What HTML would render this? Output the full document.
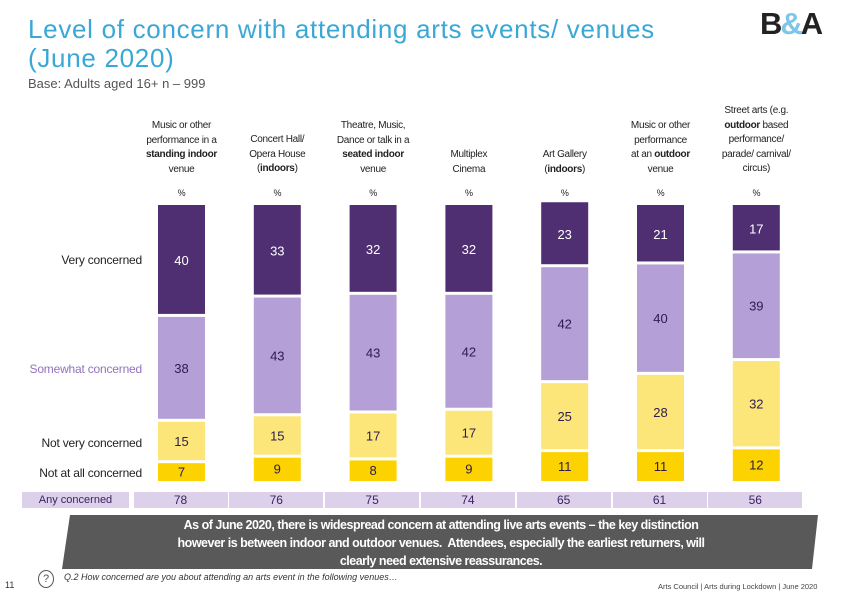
<!DOCTYPE html>
<html><head><meta charset="utf-8"><style>
body{margin:0;width:842px;height:596px;background:#fff;font-family:"Liberation Sans",sans-serif;position:relative;overflow:hidden}
.a{position:absolute}
.hdr{position:absolute;width:96px;text-align:center;font-size:10px;line-height:14.5px;color:#222;letter-spacing:-0.3px;white-space:nowrap}
.rl{position:absolute;right:700px;font-size:12px;color:#222;white-space:nowrap;letter-spacing:-0.2px}
</style></head><body>
<div class="a" style="left:28px;top:15px;font-size:26px;line-height:29px;color:#3aa8d6;letter-spacing:0.7px">Level of concern with attending arts events/ venues<br>(June 2020)</div>
<div class="a" style="left:28px;top:76px;font-size:13px;color:#555">Base: Adults aged 16+ n – 999</div>
<div class="a" style="left:760px;top:6px;font-size:31px;font-weight:bold;color:#222;letter-spacing:-2px">B<span style="color:#7cc6ea">&amp;</span>A</div>

<div class="rl" style="top:253px">Very concerned</div>
<div class="rl" style="top:362px;color:#9173bd">Somewhat concerned</div>
<div class="rl" style="top:436px">Not very concerned</div>
<div class="rl" style="top:466px">Not at all concerned</div>

<svg id="chart" class="a" style="left:0;top:0" width="842" height="596"></svg>

<div class="a" style="left:22px;top:492px;width:107px;height:16px;background:#dcd0ea;font-size:11px;line-height:16px;text-align:center;color:#3a2460">Any concerned</div>

<svg class="a" style="left:0;top:0" width="842" height="596"><polygon points="70,515 818,515 812,569 62,569" fill="#595959"/></svg>
<div class="a" style="left:111px;top:516px;width:660px;text-align:center;color:#fff;font-weight:bold;font-size:12.5px;line-height:18px;letter-spacing:-0.5px;white-space:nowrap">As of June 2020, there is widespread concern at attending live arts events – the key distinction<br>however is between indoor and outdoor venues.&nbsp; Attendees, especially the earliest returners, will<br>clearly need extensive reassurances.</div>
<div class="a" style="left:5px;top:580px;font-size:9px;color:#333">11</div>
<div class="a" style="left:38px;top:570px;width:14px;height:16px;border:1px solid #555;border-radius:50%;font-size:11px;text-align:center;line-height:16px;color:#555">?</div>
<div class="a" style="left:64px;top:572px;font-size:9px;font-style:italic;color:#333">Q.2 How concerned are you about attending an arts event in the following venues…</div>
<div class="a" style="left:658px;top:582px;font-size:7.5px;color:#444">Arts Council | Arts during Lockdown | June 2020</div>

<script>
const categories=["Music or other<br>performance in a<br><b>standing indoor</b><br>venue","Concert Hall/<br>Opera House<br>(<b>indoors</b>)","Theatre, Music,<br>Dance or talk in a<br><b>seated indoor</b><br>venue","Multiplex<br>Cinema","Art Gallery<br>(<b>indoors</b>)","Music or other<br>performance<br>at an <b>outdoor</b><br>venue","Street arts (e.g.<br><b>outdoor</b> based<br>performance/<br>parade/ carnival/<br>circus)"];
const veryConcerned=[40,33,32,32,23,21,17];
const somewhatConcerned=[38,43,43,42,42,40,39];
const notVeryConcerned=[15,15,17,17,25,28,32];
const notAtAllConcerned=[7,9,8,9,11,11,12];
const anyConcerned=[78,76,75,74,65,61,56];

const svg=document.getElementById('chart');
const NS='http://www.w3.org/2000/svg';
const bottom=481, scale=2.76, barW=47;
function xCenter(i){return 181.5+i*95.8;}
function yVal(v){return v*scale;}
const series=[
 {vals:notAtAllConcerned,color:'#fcd200',text:'#2d1b4e',name:'not-at-all'},
 {vals:notVeryConcerned,color:'#fce67a',text:'#2d1b4e',name:'not-very'},
 {vals:somewhatConcerned,color:'#b49fd6',text:'#2d1b4e',name:'somewhat'},
 {vals:veryConcerned,color:'#4f2e72',text:'#ffffff',name:'very'}
];
categories.forEach((c,i)=>{
 const h=document.createElement('div');
 h.className='hdr';
 
 
 h.innerHTML=c;
 h.style.left=(xCenter(i)-48)+'px';
 document.body.appendChild(h);
 h.style.top=(177-h.offsetHeight)+'px';
 const p=document.createElement('div');
 p.className='hdr';
 
 
 p.textContent='%';p.style.left=(xCenter(i)-48)+'px';p.style.top='186px';p.style.fontSize='9px';
 document.body.appendChild(p);
 let cum=0;
 series.forEach(s=>{
  const v=s.vals[i];
  const y0=bottom-yVal(cum), y1=bottom-yVal(cum+v);
  const r=document.createElementNS(NS,'rect');
  
  
  r.setAttribute('x',xCenter(i)-barW/2);r.setAttribute('y',y1+ (cum+v>=99?0:1.5));
  r.setAttribute('width',barW);r.setAttribute('height',Math.max(0,y0-y1-(cum+v>=99?0:1.5)-(cum>0?1.5:0)));
  r.setAttribute('fill',s.color);svg.appendChild(r);
  const t=document.createElementNS(NS,'text');
  
  
  t.setAttribute('x',xCenter(i));t.setAttribute('y',(y0+y1)/2+5);
  t.setAttribute('text-anchor','middle');t.setAttribute('font-size','13');
  t.setAttribute('fill',s.text);t.setAttribute('font-family','Liberation Sans, sans-serif');
  t.textContent=v;svg.appendChild(t);
  cum+=v;
 });
 const cell=document.createElement('div');
 
 
 cell.className='a';
 cell.style.cssText+='left:'+(xCenter(i)-48)+'px;top:492px;width:94px;height:16px;background:#dcd0ea;font-size:12px;line-height:16px;text-align:center;color:#3a2460';
 cell.textContent=anyConcerned[i];
 document.body.appendChild(cell);
});
</script>
</body></html>
